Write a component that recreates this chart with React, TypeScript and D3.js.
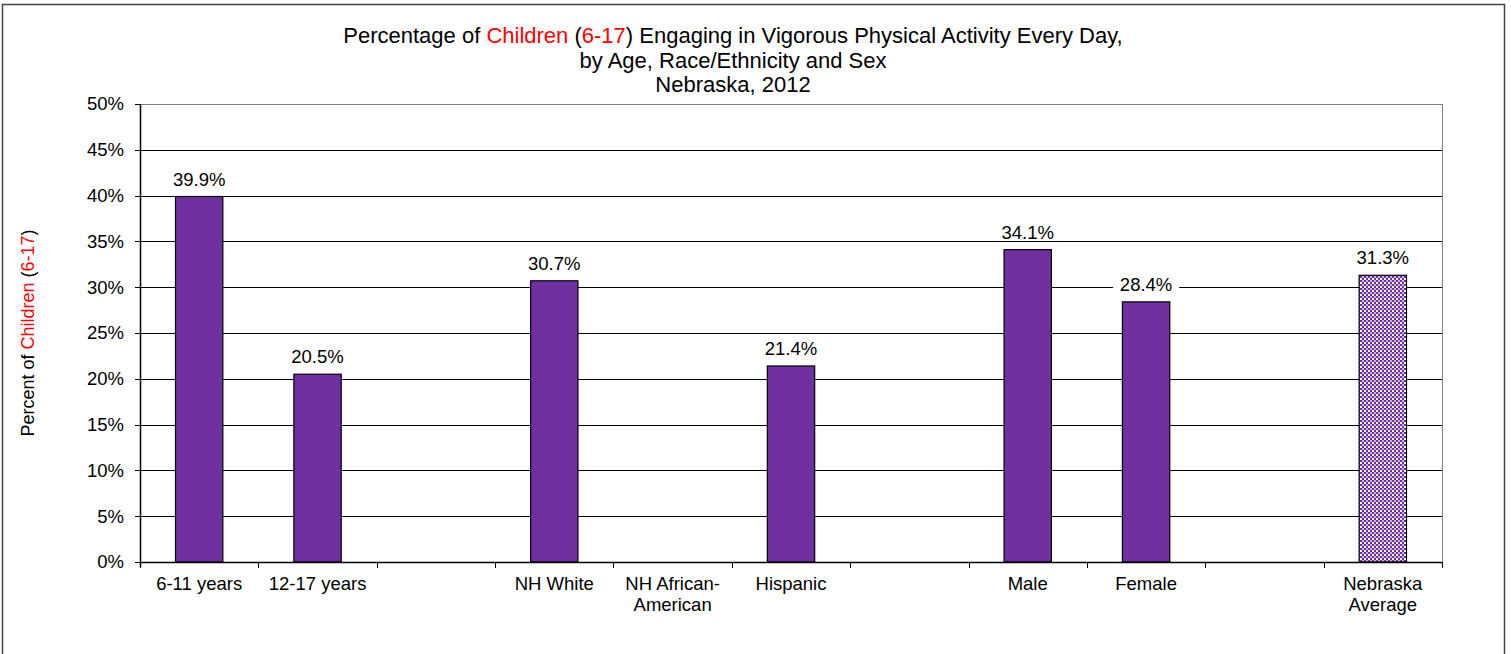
import React from "react";
import * as d3 from "d3";

const categories: string[][] = [
  ["6-11 years"],
  ["12-17 years"],
  [""],
  ["NH White"],
  ["NH African-", "American"],
  ["Hispanic"],
  [""],
  ["Male"],
  ["Female"],
  [""],
  ["Nebraska", "Average"],
];
const values: (number | null)[] = [39.9, 20.5, null, 30.7, null, 21.4, null, 34.1, 28.4, null, 31.3];
const patterned: boolean[] = [false, false, false, false, false, false, false, false, false, false, true];
const yTicks: number[] = [0, 5, 10, 15, 20, 25, 30, 35, 40, 45, 50];

const W = 1511;
const H = 654;
const PL = 140, PR = 1442, PT = 104, PB = 562;
const PURPLE = "#7030A0";
const FONT = "'Liberation Sans', Arial, Helvetica, sans-serif";

export default function App() {
  const x = d3.scaleBand<number>().domain(categories.map((_, i) => i)).range([PL, PR]).padding(0);
  const y = d3.scaleLinear().domain([0, 50]).range([PB, PT]);
  const bw = x.bandwidth();
  const barW = bw * 0.4;

  return (
    <svg width={W} height={H} style={{ position: "absolute", left: 0, top: 0, background: "#fff" }} fontFamily={FONT}>
      <defs>
        <pattern id="chk" width="4" height="4" patternUnits="userSpaceOnUse">
          <rect width="4" height="4" fill="#fff" />
          <rect x="0" y="0" width="2" height="2" fill={PURPLE} />
          <rect x="2" y="2" width="2" height="2" fill={PURPLE} />
          <rect x="2" y="0" width="2" height="2" fill="#c9aede" />
        </pattern>
      </defs>
      <rect x={2.5} y={4.5} width={1502} height={700} fill="#fff" stroke="#444" strokeWidth={1.5} />

      {/* title */}
      <text x={733} y={43} textAnchor="middle" fontSize={22} fill="#000">
        Percentage of <tspan fill="#ff0000">Children</tspan> (<tspan fill="#ff0000">6-17</tspan>) Engaging in Vigorous Physical Activity Every Day,
      </text>
      <text x={733} y={67.5} textAnchor="middle" fontSize={22} fill="#000">by Age, Race/Ethnicity and Sex</text>
      <text x={733} y={92} textAnchor="middle" fontSize={22} fill="#000">Nebraska, 2012</text>

      {/* y axis label */}
      <text transform={`translate(34,${(PT + PB) / 2}) rotate(-90)`} textAnchor="middle" fontSize={18} fill="#000">
        Percent of <tspan fill="#ff0000">Children</tspan> (<tspan fill="#ff0000">6-17</tspan>)
      </text>

      {/* gridlines */}
      {yTicks.map((t) => (
        <g key={t}>
          {t > 0 && t < 50 && (
            <line x1={PL} x2={PR} y1={Math.round(y(t)) + 0.5} y2={Math.round(y(t)) + 0.5} stroke="#000" strokeWidth={1} />
          )}
          <line x1={PL - 5} x2={PL} y1={Math.round(y(t)) + 0.5} y2={Math.round(y(t)) + 0.5} stroke="#000" strokeWidth={1} />
          <text x={124} y={y(t)} dy="0.35em" textAnchor="end" fontSize={18.5} fill="#000">{t}%</text>
        </g>
      ))}
      {/* plot border top & right */}
      <line x1={PL} x2={PR} y1={PT + 0.5} y2={PT + 0.5} stroke="#808080" strokeWidth={1} />
      <line x1={PR + 0.5} x2={PR + 0.5} y1={PT} y2={PB} stroke="#808080" strokeWidth={1} />

      {/* bars */}
      {values.map((v, i) =>
        v == null ? null : (
          <rect
            key={i}
            x={(x(i) as number) + (bw - barW) / 2}
            y={y(v)}
            width={barW}
            height={PB - y(v)}
            fill={patterned[i] ? "url(#chk)" : PURPLE}
            stroke="#000"
            strokeWidth={1.2}
          />
        )
      )}

      {/* value labels */}
      {values.map((v, i) => {
        if (v == null) return null;
        const cx = (x(i) as number) + bw / 2;
        return (
          <g key={"l" + i}>
            <rect x={cx - 33} y={y(v) - 26} width={66} height={16} fill="#fff" />
            <text x={cx} y={y(v) - 11} textAnchor="middle" fontSize={18.5} fill="#000">{v.toFixed(1)}%</text>
          </g>
        );
      })}

      {/* x axis */}
      <line x1={PL} x2={PR} y1={PB + 0.5} y2={PB + 0.5} stroke="#000" strokeWidth={1.5} />
      <line x1={PL + 0.5} x2={PL + 0.5} y1={PT} y2={PB + 5} stroke="#000" strokeWidth={1.5} />
      {d3.range(categories.length + 1).map((i) => {
        const xx = Math.round(PL + i * bw) + 0.5;
        return <line key={"t" + i} x1={xx} x2={xx} y1={PB} y2={PB + 6} stroke="#000" strokeWidth={1} />;
      })}
      {categories.map((lines, i) => (
        <text key={"c" + i} x={(x(i) as number) + bw / 2} y={590} textAnchor="middle" fontSize={18.5} fill="#000">
          {lines.map((ln, j) => (
            <tspan key={j} x={(x(i) as number) + bw / 2} dy={j === 0 ? 0 : 21}>{ln}</tspan>
          ))}
        </text>
      ))}
    </svg>
  );
}
